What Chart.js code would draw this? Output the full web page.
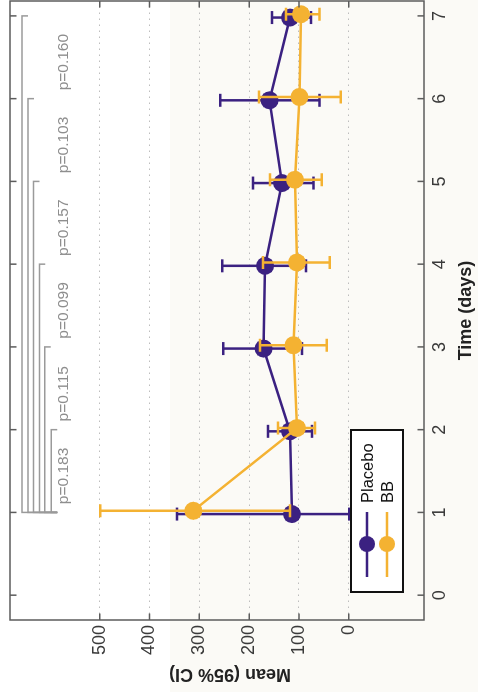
<!DOCTYPE html>
<html>
<head>
<meta charset="utf-8">
<script src="https://cdn.jsdelivr.net/npm/chart.js@4/dist/chart.umd.min.js"></script>
<style>
  html, body {
    margin: 0; padding: 0; width: 478px; height: 692px; overflow: hidden;
    background: linear-gradient(to right, #ffffff 0, #ffffff 170px, #fbfaf6 170px);
  }
  /* the figure is laid out landscape and turned a quarter turn counter-clockwise */
  #wrap {
    position: absolute; left: 0; top: 0; width: 692px; height: 478px;
    transform-origin: 0 0;
    transform: translateY(692px) rotate(-90deg);
  }
</style>
</head>
<body>
<div id="wrap"><canvas id="c" width="692" height="478"></canvas></div>
<script>
// ---- data ----
const days = [1, 2, 3, 4, 5, 6, 7];

const placeboMean  = [114, 118, 171, 168, 134, 159, 118];
const placeboLower = [ -1,  74,  94,  86,  71,  59,  76];
const placeboUpper = [345, 162, 252, 254, 192, 258, 154];

const bbMean  = [312, 104, 111, 104, 108,  99,  96];
const bbLower = [118,  68,  44,  38,  54,  16,  59];
const bbUpper = [499, 142, 178, 172, 158, 180, 126];

const timeTicks = [0, 1, 2, 3, 4, 5, 6, 7];
const meanTicks = [0, 100, 200, 300, 400, 500];

// day 1 compared against each later day
const compareDays   = [2, 3, 4, 5, 6, 7];
const bracketLevels = [597, 610, 621, 633, 644, 656];
const pValues = ['p=0.183', 'p=0.115', 'p=0.099', 'p=0.157', 'p=0.103', 'p=0.160'];

// ---- style ----
const PURPLE = '#3b2181';
const GOLD = '#f4b232';
const GREY = '#8e8e8e';
const FONT = '"Liberation Sans", Arial, Helvetica, sans-serif';
const DODGE = 0.02;          // small horizontal offset between the two groups
const BRACKET_BASE = 585;    // where the brackets drop to at day 1
const BRACKET_DROP = 12;     // drop at the far end of each bracket
const P_LABEL_LEVEL = 572;

// ---- plugins ----
const errorBars = {
  id: 'errorBars',
  beforeDatasetDraw(chart, args) {
    const ds = chart.data.datasets[args.index];
    if (!ds.lower) return;
    const { ctx, scales: { x, y } } = chart;
    ctx.save();
    ctx.strokeStyle = ds.borderColor;
    ctx.lineWidth = 2.5;
    ds.data.forEach((p, i) => {
      const px = x.getPixelForValue(p.x);
      const lo = y.getPixelForValue(ds.lower[i]);
      const hi = y.getPixelForValue(ds.upper[i]);
      ctx.beginPath();
      ctx.moveTo(px, lo); ctx.lineTo(px, hi);
      ctx.moveTo(px - 6.5, lo); ctx.lineTo(px + 6.5, lo);
      ctx.moveTo(px - 6.5, hi); ctx.lineTo(px + 6.5, hi);
      ctx.stroke();
    });
    ctx.restore();
  }
};

const axesBox = {
  id: 'axesBox',
  afterDraw(chart) {
    const { ctx, chartArea: a, scales: { x, y } } = chart;
    ctx.save();

    // p-value labels beside the brackets
    ctx.fillStyle = GREY;
    ctx.font = '15.5px ' + FONT;
    ctx.textAlign = 'left';
    ctx.textBaseline = 'middle';
    compareDays.forEach((d, i) => {
      ctx.fillText(pValues[i], x.getPixelForValue(d - 0.9), y.getPixelForValue(P_LABEL_LEVEL));
    });

    // box with inward ticks on every side
    ctx.strokeStyle = '#5c5c5c';
    ctx.lineWidth = 1.5;
    ctx.strokeRect(a.left, a.top, a.right - a.left, a.bottom - a.top);
    ctx.beginPath();
    timeTicks.forEach(t => {
      const px = x.getPixelForValue(t);
      ctx.moveTo(px, a.bottom); ctx.lineTo(px, a.bottom - 6.5);
      ctx.moveTo(px, a.top);    ctx.lineTo(px, a.top + 6.5);
    });
    meanTicks.forEach(v => {
      const py = y.getPixelForValue(v);
      ctx.moveTo(a.left, py);  ctx.lineTo(a.left + 6.5, py);
      ctx.moveTo(a.right, py); ctx.lineTo(a.right - 6.5, py);
    });
    ctx.stroke();

    // legend
    const lx = a.left + 28, ly = a.bottom - 73, lw = 162, lh = 52;
    ctx.fillStyle = '#ffffff';
    ctx.fillRect(lx, ly, lw, lh);
    ctx.strokeStyle = '#111111';
    ctx.lineWidth = 2;
    ctx.strokeRect(lx, ly, lw, lh);
    const entries = [['Placebo', PURPLE], ['BB', GOLD]];
    entries.forEach(([label, color], i) => {
      const cy = ly + 16 + i * 20;
      ctx.strokeStyle = color;
      ctx.lineWidth = 2.5;
      ctx.beginPath();
      ctx.moveTo(lx + 15, cy); ctx.lineTo(lx + 80, cy);
      ctx.stroke();
      ctx.fillStyle = color;
      ctx.beginPath();
      ctx.arc(lx + 48, cy, 8, 0, Math.PI * 2);
      ctx.fill();
      ctx.fillStyle = '#111111';
      ctx.font = '16.5px ' + FONT;
      ctx.textAlign = 'left';
      ctx.textBaseline = 'middle';
      ctx.fillText(label, lx + 89, cy + 1);
    });

    // value axis title
    ctx.fillStyle = '#222222';
    ctx.font = 'bold 18px ' + FONT;
    ctx.textAlign = 'center';
    ctx.textBaseline = 'middle';
    ctx.translate(18, (a.top + a.bottom) / 2 + 13);
    ctx.rotate(-Math.PI / 2);
    ctx.fillText('Mean (95% CI)', 0, 0);
    ctx.restore();
  }
};

// ---- datasets ----
const bracketSets = compareDays.map((d, i) => ({
  data: [
    { x: 1, y: BRACKET_BASE },
    { x: 1, y: bracketLevels[i] },
    { x: d, y: bracketLevels[i] },
    { x: d, y: bracketLevels[i] - BRACKET_DROP }
  ],
  showLine: true,
  borderColor: '#9a9a9a',
  borderWidth: 1.5,
  pointRadius: 0,
  order: 2
}));

const groupSet = (label, mean, lower, upper, color, shift, order) => ({
  label,
  data: days.map((d, i) => ({ x: d + shift, y: mean[i] })),
  lower, upper,
  showLine: true,
  borderColor: color,
  backgroundColor: color,
  borderWidth: 2.5,
  pointRadius: 9,
  pointBorderWidth: 0,
  pointBackgroundColor: color,
  order
});

new Chart(document.getElementById('c'), {
  type: 'scatter',
  data: {
    datasets: [
      groupSet('BB', bbMean, bbLower, bbUpper, GOLD, DODGE, 0),
      groupSet('Placebo', placeboMean, placeboLower, placeboUpper, PURPLE, -DODGE, 1),
      ...bracketSets
    ]
  },
  options: {
    responsive: false,
    animation: false,
    devicePixelRatio: 1,
    layout: { autoPadding: false, padding: { top: 10, right: 1, left: 0, bottom: 0 } },
    plugins: { legend: { display: false }, tooltip: { enabled: false } },
    scales: {
      x: {
        type: 'linear',
        min: -0.3, max: 7.18,
        afterBuildTicks: s => { s.ticks = timeTicks.map(v => ({ value: v })); },
        afterFit: s => { s.height = 54; s.paddingLeft = 0; s.paddingRight = 0; },
        grid: { drawOnChartArea: false, drawTicks: false },
        border: { display: false },
        ticks: { padding: 5, color: '#3a3a3a', font: { family: FONT, size: 18 } },
        title: {
          display: true, text: 'Time (days)', color: '#222222',
          font: { family: FONT, size: 18, weight: 'bold' },
          padding: { top: 0, bottom: 1 }
        }
      },
      y: {
        type: 'linear',
        min: -151, max: 680,
        afterBuildTicks: s => { s.ticks = meanTicks.map(v => ({ value: v })); },
        afterFit: s => { s.width = 72; s.paddingTop = 0; s.paddingBottom = 0; },
        grid: { color: '#bdbdbd', lineWidth: 1, drawTicks: false },
        border: { display: false, dash: [1.5, 4.5] },
        ticks: { padding: 5, color: '#3a3a3a', font: { family: FONT, size: 18 } }
      }
    }
  },
  plugins: [errorBars, axesBox]
});
</script>
</body>
</html>
